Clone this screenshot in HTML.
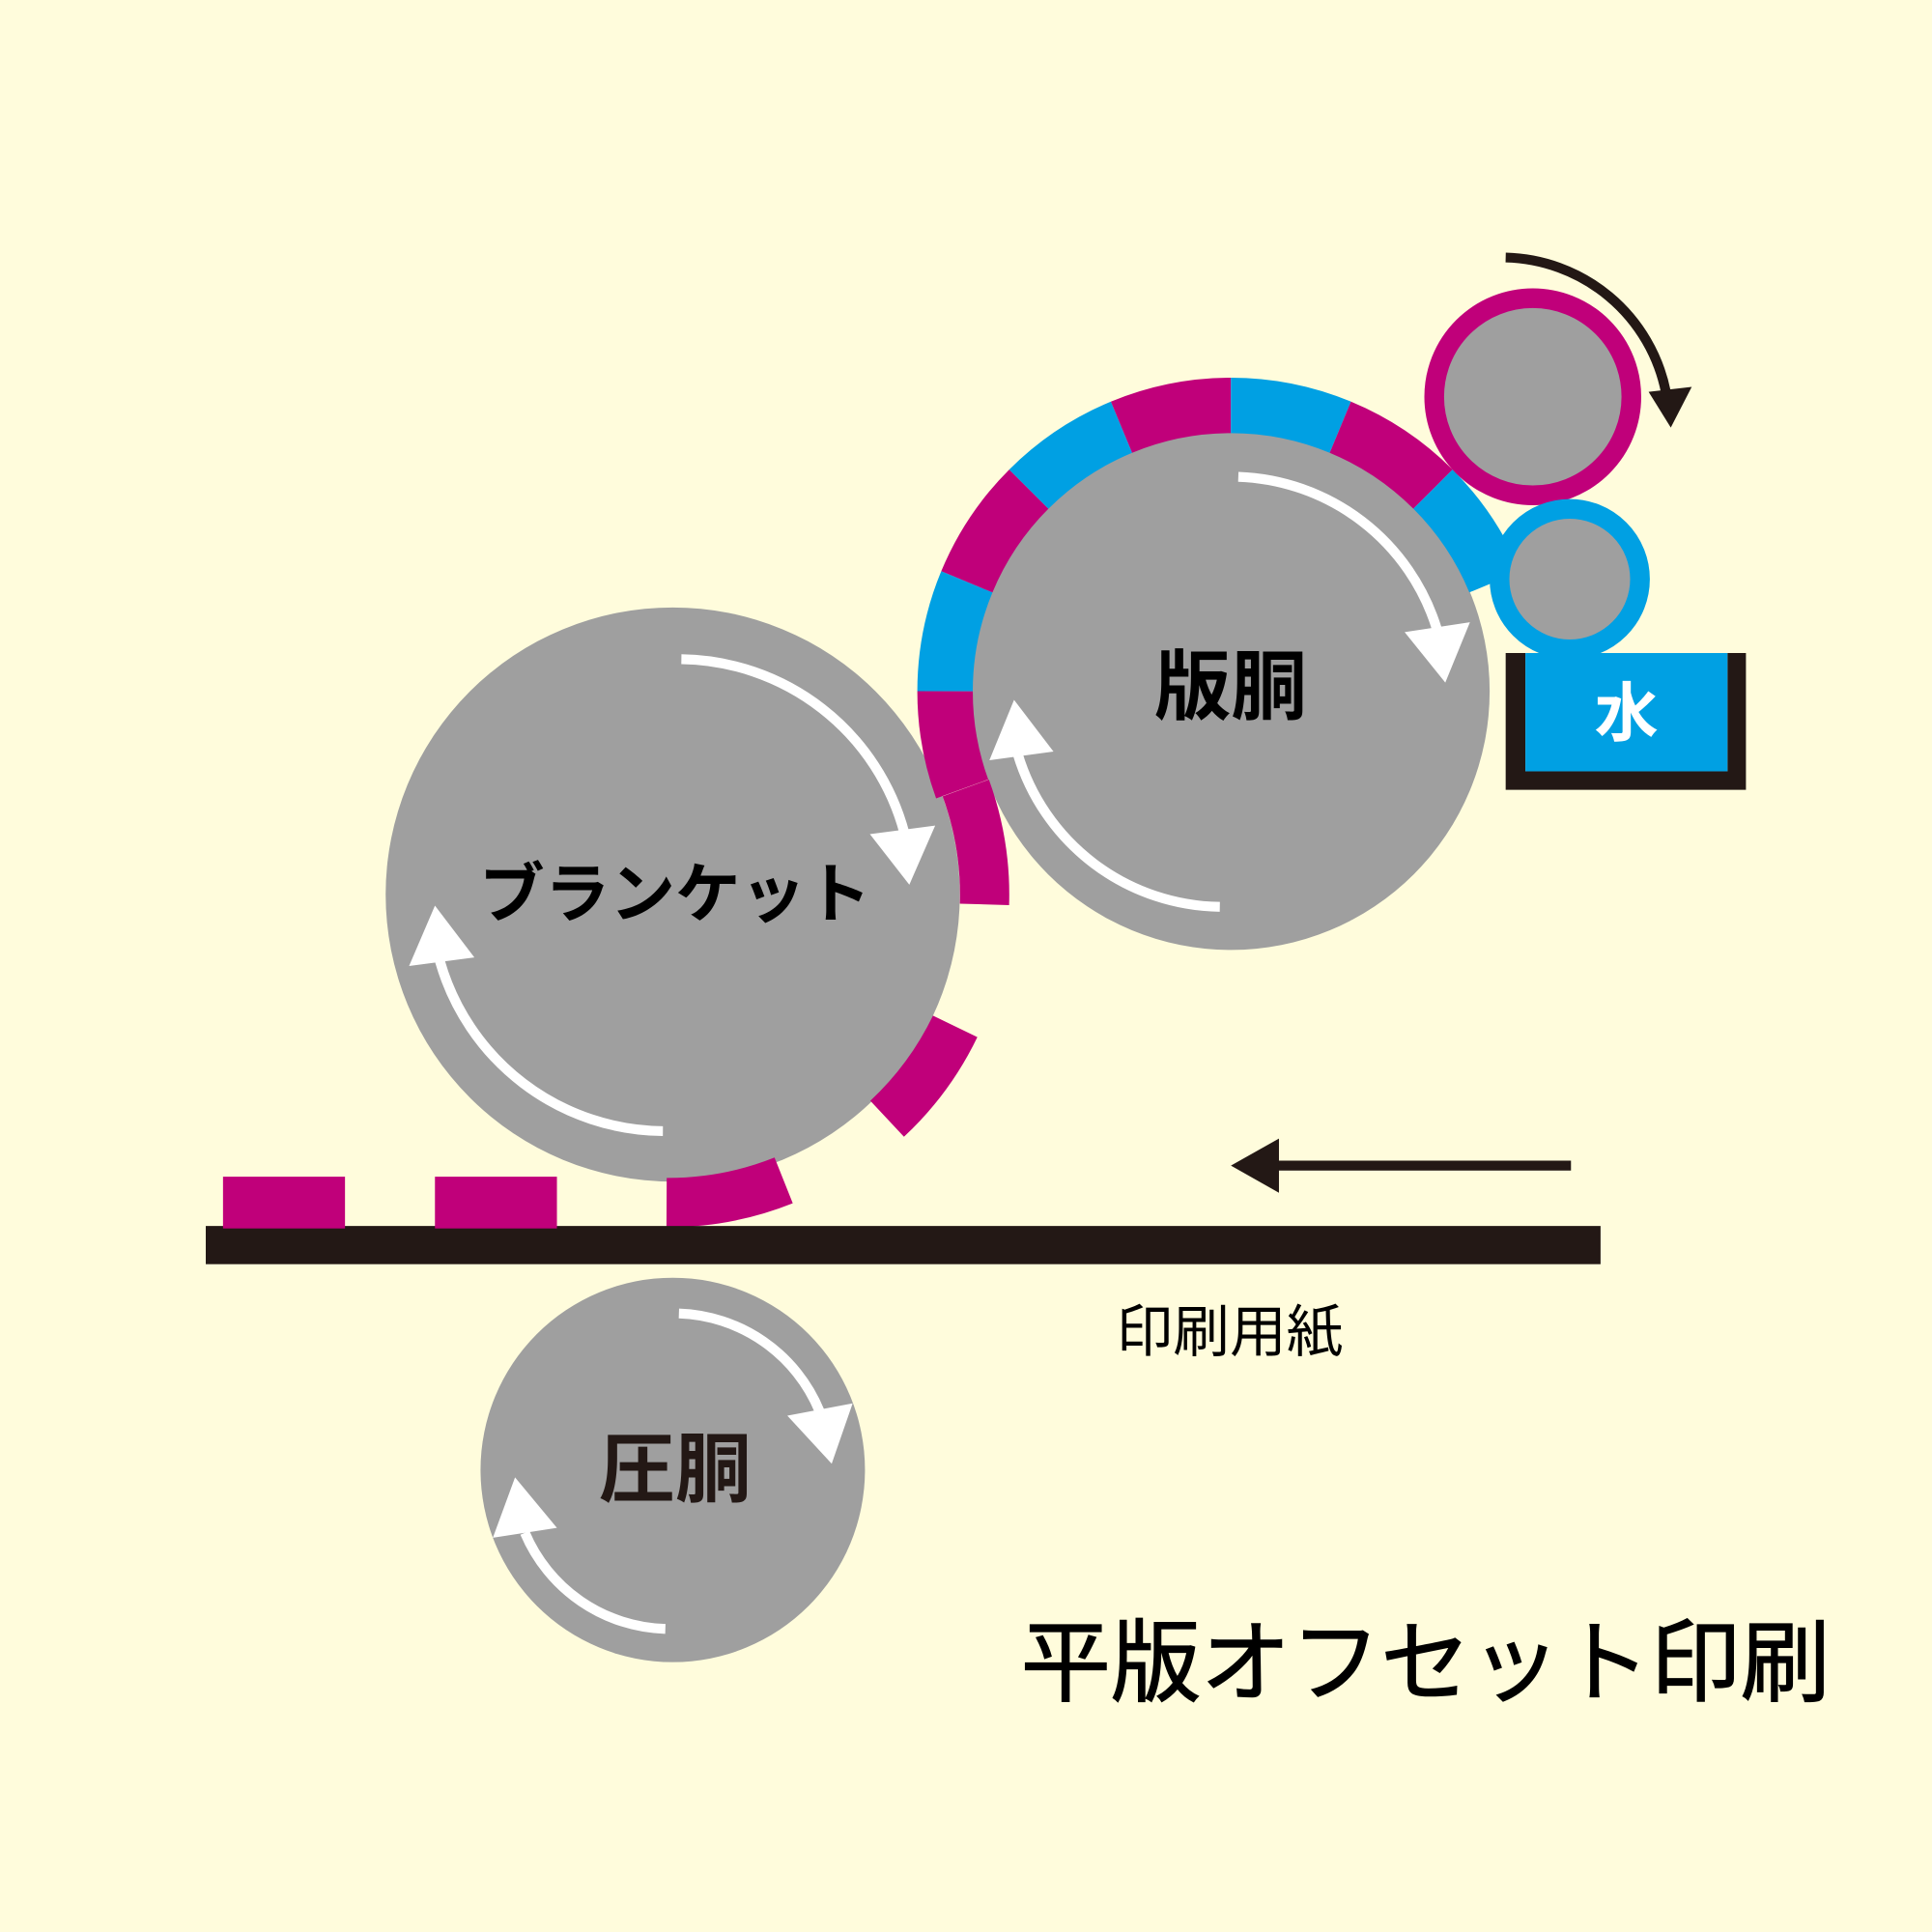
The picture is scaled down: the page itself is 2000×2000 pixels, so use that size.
<!DOCTYPE html>
<html><head><meta charset="utf-8"><style>
html,body{margin:0;padding:0;background:#fffcdc;}
svg{display:block}
text{font-family:"Liberation Sans","Noto Sans CJK JP",sans-serif;}
</style></head><body>
<svg width="2000" height="2000" viewBox="0 0 1568 1568" xmlns="http://www.w3.org/2000/svg">
<rect width="1568" height="1568" fill="#fffcdc"/>
<circle cx="546" cy="726" r="233" fill="#9f9f9f"/>
<circle cx="999" cy="561" r="210" fill="#9f9f9f"/>
<g fill="none" stroke-width="45">
<path d="M767,561 A232,232 0 0 1 784.7,472.2" stroke="#00a0e3"/>
<path d="M784.7,472.2 A232,232 0 0 1 835,397" stroke="#c0007a"/>
<path d="M835,397 A232,232 0 0 1 910.2,346.7" stroke="#00a0e3"/>
<path d="M910.2,346.7 A232,232 0 0 1 999,329" stroke="#c0007a"/>
<path d="M999,329 A232,232 0 0 1 1087.8,346.7" stroke="#00a0e3"/>
<path d="M1087.8,346.7 A232,232 0 0 1 1163,397" stroke="#c0007a"/>
<path d="M1163,397 A232,232 0 0 1 1213.3,472.2" stroke="#00a0e3"/>
<path d="M780.9,640.3 A232,232 0 0 1 767,561" stroke="#c0007a"/>
</g>
<g fill="none" stroke-width="40" stroke="#c0007a">
<path d="M783.8,639.5 A253,253 0 0 1 799,734"/>
<path d="M775.2,833 A253,253 0 0 1 720,908"/>
<path d="M636,958 A253,253 0 0 1 541,976"/>
</g>
<circle cx="1244" cy="322" r="80" fill="#9f9f9f" stroke="#c0007a" stroke-width="16"/>
<circle cx="1274" cy="470" r="57" fill="#9f9f9f" stroke="#00a0e3" stroke-width="16"/>
<path d="M1222,530 H1238 V626 H1402 V530 H1417 V641 H1222 Z" fill="#231815"/>
<rect x="1238" y="530" width="164" height="96" fill="#00a0e3"/>
<text x="1320" y="597" font-size="52" font-weight="bold" fill="#fff" text-anchor="middle">水</text>
<path d="M1222,209 A136,136 0 0 1 1352,318" fill="none" stroke="#231815" stroke-width="8"/>
<polygon points="1338,318 1373,314 1356,347" fill="#231815"/>
<circle cx="546" cy="1193" r="156" fill="#9f9f9f"/>
<rect x="167" y="995" width="1132" height="31" fill="#231815"/>
<rect x="181" y="955" width="99" height="42" fill="#c0007a"/>
<rect x="353" y="955" width="99" height="42" fill="#c0007a"/>
<line x1="1275" y1="946" x2="1035" y2="946" stroke="#231815" stroke-width="8"/>
<polygon points="999,946 1038,924 1038,968" fill="#231815"/>
<g fill="none" stroke="#fff" stroke-width="8">
<path d="M1005,387 A175,175 0 0 1 1166,510"/>
<path d="M990,736 A174,174 0 0 1 826,612"/>
<path d="M553,535 A190,190 0 0 1 734,676"/>
<path d="M538,918 A190,190 0 0 1 357,780"/>
<path d="M551,1066 A128,128 0 0 1 665,1145"/>
<path d="M540,1322 A128,128 0 0 1 426,1244"/>
</g>
<g fill="#fff">
<polygon points="1140,513 1193,505 1173,554"/>
<polygon points="803,617 823,568 855,610"/>
<polygon points="706,677 759,670 738,718"/>
<polygon points="332,784 353,735 385,777"/>
<polygon points="639,1149 692,1139 675,1188"/>
<polygon points="400,1248 418,1199 452,1240"/>
</g>
<text x="999" y="579" font-size="62" font-weight="bold" fill="#000" text-anchor="middle">版胴</text>
<text x="548" y="744" font-size="53" font-weight="bold" fill="#000" text-anchor="middle">ブランケット</text>
<text x="548" y="1214" font-size="62" font-weight="bold" fill="#231815" text-anchor="middle">圧胴</text>
<text x="998" y="1097" font-size="46" fill="#000" text-anchor="middle">印刷用紙</text>
<text x="1157" y="1375" font-size="73" fill="#000" stroke="#000" stroke-width="1" text-anchor="middle">平版オフセット印刷</text>
</svg>
</body></html>
